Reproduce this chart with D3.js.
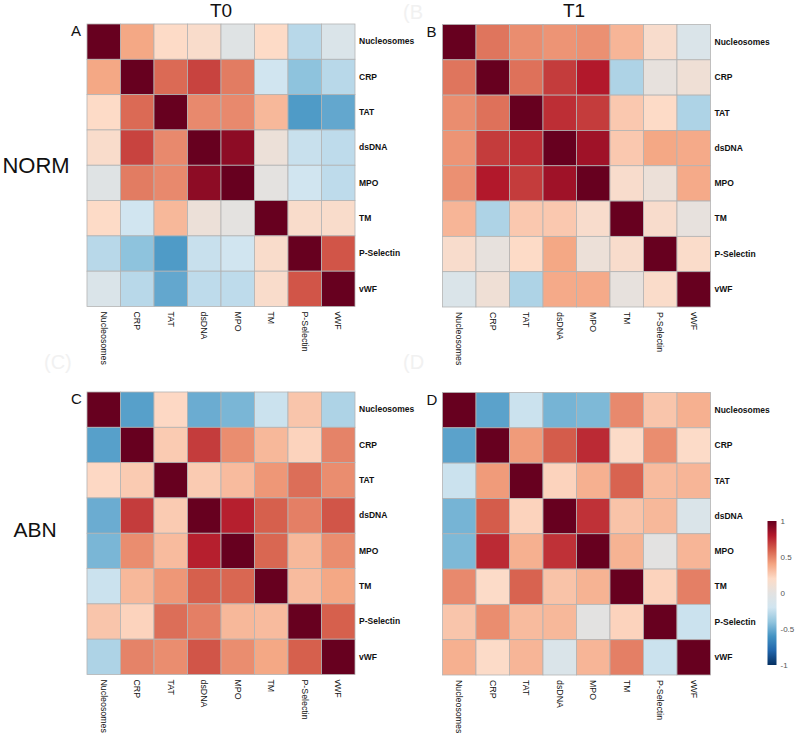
<!DOCTYPE html>
<html>
<head>
<meta charset="utf-8">
<script src="https://cdn.jsdelivr.net/npm/d3@7"></script>
<style>
  body { margin: 0; background: #fff; }
  svg { display: block; font-family: "Liberation Sans", Arial, sans-serif; }
</style>
</head>
<body>
<div class="chart"></div>
<script>
const labels = ["Nucleosomes", "CRP", "TAT", "dsDNA", "MPO", "TM", "P-Selectin", "vWF"];

// correlation matrices
const normT0 = [
  [1, 0.39, 0.2, 0.17, -0.04, 0.2, -0.28, -0.1],
  [0.39, 1, 0.57, 0.68, 0.52, -0.2, -0.41, -0.28],
  [0.2, 0.57, 1, 0.48, 0.48, 0.33, -0.57, -0.52],
  [0.17, 0.68, 0.48, 1, 0.9, 0.07, -0.23, -0.26],
  [-0.04, 0.52, 0.48, 0.9, 1, 0.01, -0.2, -0.26],
  [0.2, -0.2, 0.33, 0.07, 0.01, 1, 0.17, 0.17],
  [-0.28, -0.41, -0.57, -0.23, -0.2, 0.17, 1, 0.63],
  [-0.1, -0.28, -0.52, -0.26, -0.26, 0.17, 0.63, 1],
];

const normT1 = [
  [1, 0.54, 0.47, 0.45, 0.46, 0.34, 0.16, -0.1],
  [0.54, 1, 0.55, 0.7, 0.8, -0.31, 0.03, 0.09],
  [0.47, 0.55, 1, 0.74, 0.7, 0.27, 0.2, -0.31],
  [0.45, 0.7, 0.74, 1, 0.85, 0.27, 0.39, 0.38],
  [0.46, 0.8, 0.7, 0.85, 1, 0.16, 0.07, 0.38],
  [0.34, -0.31, 0.27, 0.27, 0.16, 1, 0.16, 0.03],
  [0.16, 0.03, 0.2, 0.39, 0.07, 0.16, 1, 0.18],
  [-0.1, 0.09, -0.31, 0.38, 0.38, 0.03, 0.18, 1],
];

const abnT0 = [
  [1, -0.55, 0.21, -0.5, -0.46, -0.22, 0.28, -0.31],
  [-0.55, 1, 0.26, 0.7, 0.47, 0.33, 0.23, 0.5],
  [0.21, 0.26, 1, 0.26, 0.32, 0.44, 0.56, 0.47],
  [-0.5, 0.7, 0.26, 1, 0.78, 0.6, 0.51, 0.63],
  [-0.46, 0.47, 0.32, 0.78, 1, 0.58, 0.33, 0.47],
  [-0.22, 0.33, 0.44, 0.6, 0.58, 1, 0.32, 0.39],
  [0.28, 0.23, 0.56, 0.51, 0.33, 0.32, 1, 0.6],
  [-0.31, 0.5, 0.47, 0.63, 0.47, 0.39, 0.6, 1],
];

const abnT1 = [
  [1, -0.54, -0.22, -0.47, -0.45, 0.48, 0.28, 0.36],
  [-0.54, 1, 0.43, 0.61, 0.75, 0.19, 0.47, 0.19],
  [-0.22, 0.43, 1, 0.23, 0.36, 0.59, 0.32, 0.34],
  [-0.47, 0.61, 0.23, 1, 0.73, 0.29, 0.33, -0.1],
  [-0.45, 0.75, 0.36, 0.73, 1, 0.35, 0.0, 0.34],
  [0.48, 0.19, 0.59, 0.29, 0.35, 1, 0.23, 0.51],
  [0.28, 0.47, 0.32, 0.33, 0.0, 0.23, 1, -0.22],
  [0.36, 0.19, 0.34, -0.1, 0.34, 0.51, -0.22, 1],
];

const legendTicks = [-1, -0.5, 0, 0.5, 1];

const width = 800;
const height = 739;
const gridW = 268;
const gridH = 282.5;

const color = d3
  .scaleLinear()
  .domain([-1, -0.8, -0.6, -0.4, -0.2, 0, 0.2, 0.4, 0.6, 0.8, 1])
  .range(["#053061", "#2166ac", "#4393c3", "#92c5de", "#d1e5f0", "#e3e2e1",
          "#fddbc7", "#f4a582", "#d6604d", "#b2182b", "#67001f"])
  .clamp(true);

const svg = d3
  .select(".chart")
  .append("svg")
  .attr("width", width)
  .attr("height", height);

// faint ghost letters
const ghosts = [
  { t: "(B", x: 403, y: 19 },
  { t: "(C)", x: 44, y: 369 },
  { t: "(D", x: 403, y: 369 },
];
svg.selectAll(".ghost")
  .data(ghosts)
  .join("text")
  .attr("class", "ghost")
  .attr("x", (d) => d.x)
  .attr("y", (d) => d.y)
  .style("font-size", "20px")
  .style("fill", "#f1f1f1")
  .text((d) => d.t);

const panels = [
  { data: normT0, x: 87, y: 24, tag: "A" },
  { data: normT1, x: 442.5, y: 24.5, tag: "B" },
  { data: abnT0, x: 87, y: 392, tag: "C" },
  { data: abnT1, x: 442.5, y: 392.5, tag: "D" },
];

function drawPanel(p) {
  const g = svg.append("g").attr("transform", `translate(${p.x},${p.y})`);
  const xs = d3.scaleBand().domain(labels).range([0, gridW]);
  const ys = d3.scaleBand().domain(labels).range([0, gridH]);

  const cells = p.data.flatMap((row, i) =>
    row.map((v, j) => ({ r: labels[i], c: labels[j], v })));

  g.selectAll("rect")
    .data(cells)
    .join("rect")
    .attr("x", (d) => xs(d.c))
    .attr("y", (d) => ys(d.r))
    .attr("width", xs.bandwidth())
    .attr("height", ys.bandwidth())
    .attr("fill", (d) => color(d.v))
    .attr("stroke", "#b3b3b3")
    .attr("stroke-width", 0.8);

  g.append("g")
    .attr("transform", `translate(${gridW},0)`)
    .call(d3.axisRight(ys).tickSize(0).tickPadding(4))
    .call((a) => a.select(".domain").remove())
    .call((a) => a.selectAll("text")
      .style("font-family", "Liberation Sans, Arial, sans-serif")
      .style("font-size", "8.5px")
      .style("font-weight", "700")
      .style("fill", "#111"));

  g.append("g")
    .selectAll("text")
    .data(labels)
    .join("text")
    .attr("transform", (d) => `translate(${xs(d) + xs.bandwidth() / 2},${gridH + 5}) rotate(90)`)
    .attr("dy", "0.35em")
    .style("font-size", "8.8px")
    .style("fill", "#111")
    .text((d) => d);

  svg.append("text")
    .attr("x", p.x - 16)
    .attr("y", p.y + 12)
    .style("font-size", "15px")
    .style("fill", "#111")
    .text(p.tag);
}

panels.forEach(drawPanel);

svg.append("text").attr("x", 221).attr("y", 17).attr("text-anchor", "middle")
  .style("font-size", "19px").style("fill", "#111").text("T0");
svg.append("text").attr("x", 574).attr("y", 17).attr("text-anchor", "middle")
  .style("font-size", "19px").style("fill", "#111").text("T1");
svg.append("text").attr("x", 36).attr("y", 173).attr("text-anchor", "middle")
  .style("font-size", "22px").style("fill", "#111").text("NORM");
svg.append("text").attr("x", 35).attr("y", 537).attr("text-anchor", "middle")
  .style("font-size", "21px").style("fill", "#111").text("ABN");

// colour bar
const barX = 767.5;
const barW = 9;
const barScale = d3.scaleLinear().domain([-1, 1]).range([665, 521]);

const grad = svg.append("defs")
  .append("linearGradient")
  .attr("id", "cbar")
  .attr("x1", 0).attr("x2", 0).attr("y1", 1).attr("y2", 0);
grad.selectAll("stop")
  .data(d3.range(0, 1.0001, 0.05))
  .join("stop")
  .attr("offset", (d) => d)
  .attr("stop-color", (d) => color(d * 2 - 1));

svg.append("rect")
  .attr("x", barX)
  .attr("y", barScale(1))
  .attr("width", barW)
  .attr("height", barScale(-1) - barScale(1))
  .attr("fill", "url(#cbar)");

svg.append("g")
  .attr("transform", `translate(${barX + barW},0)`)
  .call(d3.axisRight(barScale).tickValues(legendTicks).tickSize(0).tickPadding(4)
    .tickFormat((d) => String(d)))
  .call((a) => a.select(".domain").remove())
  .call((a) => a.selectAll("text")
    .style("font-family", "Liberation Sans, Arial, sans-serif")
    .style("font-size", "8px")
    .style("fill", "#555"));
</script>
</body>
</html>
